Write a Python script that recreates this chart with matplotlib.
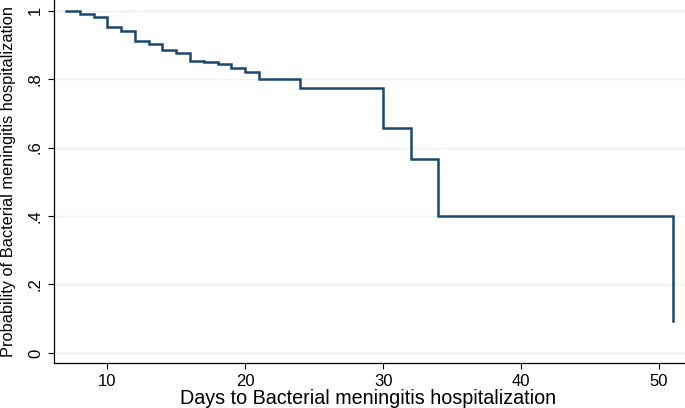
import matplotlib
matplotlib.use("Agg")
import matplotlib.pyplot as plt

# Kaplan-Meier style step estimates
days = [7, 8, 9, 10, 11, 12, 13, 14, 15, 16, 17, 18, 19, 20, 21, 24, 30, 32, 34, 51]
prob = [1.0, 0.991, 0.980, 0.952, 0.940, 0.910, 0.902, 0.886, 0.875, 0.854,
        0.850, 0.845, 0.833, 0.820, 0.800, 0.773, 0.657, 0.566, 0.400, 0.094]

x_ticks = [10, 20, 30, 40, 50]
y_ticks = [0, 0.2, 0.4, 0.6, 0.8, 1.0]
y_tick_labels = ["0", ".2", ".4", ".6", ".8", "1"]

plt.rcParams["font.family"] = ["Liberation Sans", "DejaVu Sans"]

fig = plt.figure(figsize=(6.85, 4.08), dpi=100)
ax = fig.add_axes([54 / 685, 45.5 / 408, 631 / 685, 362.5 / 408])

line_color = "#1a476f"
ax.step(days, prob, where="post", color=line_color, lw=1.8, solid_joinstyle="miter")

ax.set_xlim(6.13, 51.9)
ax.set_ylim(-0.028, 1.031)

ax.set_xticks(x_ticks)
ax.set_yticks(y_ticks)
ax.set_yticklabels(y_tick_labels, rotation=90, va="center")
ax.tick_params(axis="both", direction="out", length=4, width=0.8, labelsize=12)
ax.tick_params(axis="x", pad=4)
ax.tick_params(axis="y", pad=4)

ax.grid(axis="y", color="#eaf2f3", lw=1.0)
ax.set_axisbelow(True)

for side in ["top", "right"]:
    ax.spines[side].set_visible(False)
for side in ["left", "bottom"]:
    ax.spines[side].set_linewidth(0.9)

ax.set_xlabel("Days to Bacterial meningitis hospitalization", fontsize=14.2, va="top")
ax.set_ylabel("Probability of Bacterial meningitis hospitalization", fontsize=11.8, va="bottom")
ax.xaxis.set_label_coords(0.498, -0.074)
ax.yaxis.set_label_coords(-0.060, 0.5)

fig.savefig("out.png", dpi=100)
